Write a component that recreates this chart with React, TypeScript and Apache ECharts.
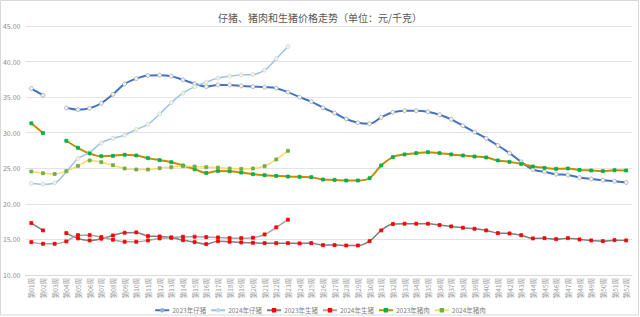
import React, { useEffect, useRef } from "react";
import * as echarts from "echarts";

const weeks: string[] = [];
for (let i = 1; i <= 52; i++) weeks.push("第" + String(i).padStart(2, "0") + "周");

const piglet2023 = [36.2, 35.27, null, 33.5, 33.24, 33.43, 34.14, 35.4, 36.86, 37.6, 38.03, 38.09, 37.95, 37.43, 36.9, 36.48, 36.72, 36.72, 36.58, 36.48, 36.4, 36.25, 35.7, 35.0, 34.37, 33.52, 32.77, 31.93, 31.4, 31.26, 32.16, 32.87, 33.1, 33.1, 32.96, 32.53, 31.88, 30.98, 30.09, 29.2, 28.2, 27.13, 25.9, 24.83, 24.5, 24.17, 24.07, 23.7, 23.5, 23.32, 23.18, 23.0];
const piglet2024 = [22.86, 22.76, 22.94, 24.5, 26.38, 27.23, 28.58, 29.2, 29.67, 30.47, 31.18, 32.63, 34.22, 35.55, 36.48, 37.1, 37.67, 37.95, 38.13, 38.18, 38.8, 40.4, 42.12];
const hog2023 = [17.3, 16.27, null, 15.89, 15.14, 14.86, 15.1, 15.56, 15.94, 15.99, 15.47, 15.42, 15.28, 14.9, 14.62, 14.34, 14.76, 14.67, 14.58, 14.53, 14.48, 14.48, 14.48, 14.44, 14.48, 14.2, 14.2, 14.15, 14.15, 14.76, 16.27, 17.16, 17.21, 17.21, 17.21, 17.02, 16.83, 16.65, 16.5, 16.27, 15.89, 15.84, 15.6, 15.14, 15.18, 15.04, 15.18, 15.0, 14.86, 14.76, 14.9, 14.86];
const hog2024 = [14.62, 14.39, 14.39, 14.72, 15.6, 15.6, 15.33, 14.96, 14.67, 14.67, 14.86, 15.14, 15.24, 15.38, 15.38, 15.33, 15.28, 15.18, 15.18, 15.24, 15.7, 16.7, 17.78];
const pork2023 = [31.32, 29.95, null, 28.87, 27.88, 27.09, 26.7, 26.75, 26.9, 26.8, 26.43, 26.14, 25.86, 25.4, 24.87, 24.35, 24.63, 24.59, 24.4, 24.17, 24.03, 23.93, 23.84, 23.8, 23.75, 23.42, 23.37, 23.28, 23.28, 23.6, 25.4, 26.57, 26.95, 27.13, 27.27, 27.13, 26.95, 26.8, 26.66, 26.52, 26.1, 25.9, 25.62, 25.25, 25.06, 24.92, 24.97, 24.77, 24.69, 24.6, 24.73, 24.69];
const pork2024 = [24.55, 24.3, 24.2, 24.6, 25.34, 26.1, 25.86, 25.44, 24.97, 24.83, 24.83, 25.01, 25.15, 25.3, 25.25, 25.15, 25.1, 24.97, 24.92, 24.97, 25.3, 26.24, 27.45];

const FONT = "'Noto Sans CJK SC', 'Noto Sans', sans-serif";

function mkSeries(name: string, data: (number | null)[], lineColor: string, width: number, mFill: string, mBorder: string, symbol: string, size: number) {
  return {
    name,
    type: "line",
    data,
    smooth: 0.35,
    connectNulls: false,
    symbol,
    symbolSize: size,
    showSymbol: true,
    lineStyle: { color: lineColor, width },
    itemStyle: { color: mFill, borderColor: mBorder, borderWidth: 0.8 },
    emphasis: { disabled: true },
  };
}

export default function App() {
  const ref = useRef<HTMLDivElement>(null);
  useEffect(() => {
    if (!ref.current) return;
    const chart = echarts.init(ref.current, undefined, { renderer: "svg" });
    chart.setOption({
      animation: false,
      backgroundColor: "#ffffff",
      textStyle: { fontFamily: FONT },
      title: {
        text: "仔猪、猪肉和生猪价格走势（单位：元/千克）",
        left: "center",
        top: 7,
        textStyle: { fontSize: 10, fontWeight: "normal", color: "#595959", fontFamily: FONT },
      },
      legend: {
        top: 302,
        left: "center",
        itemWidth: 14,
        itemHeight: 3,
        itemGap: 4,
        textStyle: { fontSize: 6.5, color: "#7f7f7f", fontFamily: FONT, padding: [0, 0, 0, -2] },
        data: ["2023年仔猪", "2024年仔猪", "2023年生猪", "2024年生猪", "2023年猪肉", "2024年猪肉"],
      },
      grid: { left: 25, right: 8, top: 26, bottom: 42 },
      xAxis: {
        type: "category",
        data: weeks,
        boundaryGap: true,
        axisLine: { lineStyle: { color: "#D9D9D9" } },
        axisTick: { show: false },
        axisLabel: { interval: 0, rotate: 90, fontSize: 6.5, color: "#9a9a9a", margin: 3, fontFamily: FONT },
      },
      yAxis: {
        type: "value",
        min: 10,
        max: 45,
        interval: 5,
        axisLine: { show: false },
        axisTick: { show: false },
        splitLine: { lineStyle: { color: "#E3E3E3", width: 1 } },
        axisLabel: { fontSize: 7, color: "#8c8c8c", margin: 5, formatter: (v: number) => v.toFixed(2), fontFamily: FONT },
      },
      graphic: [
        { type: "rect", shape: { x: 0.5, y: 0.5, width: 638, height: 314.5 }, style: { fill: "none", stroke: "#D9D9D9", lineWidth: 1 }, silent: true },
      ],
      series: [
        mkSeries("2023年仔猪", piglet2023, "#4472C4", 2, "#FFF2CC", "#8FAADC", "circle", 4),
        mkSeries("2024年仔猪", piglet2024, "#9DC3E6", 1.5, "#FFF2CC", "#BDD7EE", "circle", 4),
        mkSeries("2023年生猪", hog2023, "#7F7F7F", 1.5, "#FF0000", "#FF0000", "rect", 3),
        mkSeries("2024年生猪", hog2024, "#A5A5A5", 1.5, "#FF0000", "#FF0000", "rect", 3),
        mkSeries("2023年猪肉", pork2023, "#BF9000", 2, "#00B050", "#00B050", "rect", 3),
        mkSeries("2024年猪肉", pork2024, "#FFD966", 1.5, "#70AD47", "#70AD47", "rect", 3),
      ],
    });
    return () => chart.dispose();
  }, []);
  return <div ref={ref} style={{ position: "fixed", left: 0, top: 0, width: 640, height: 317 }} />;
}
